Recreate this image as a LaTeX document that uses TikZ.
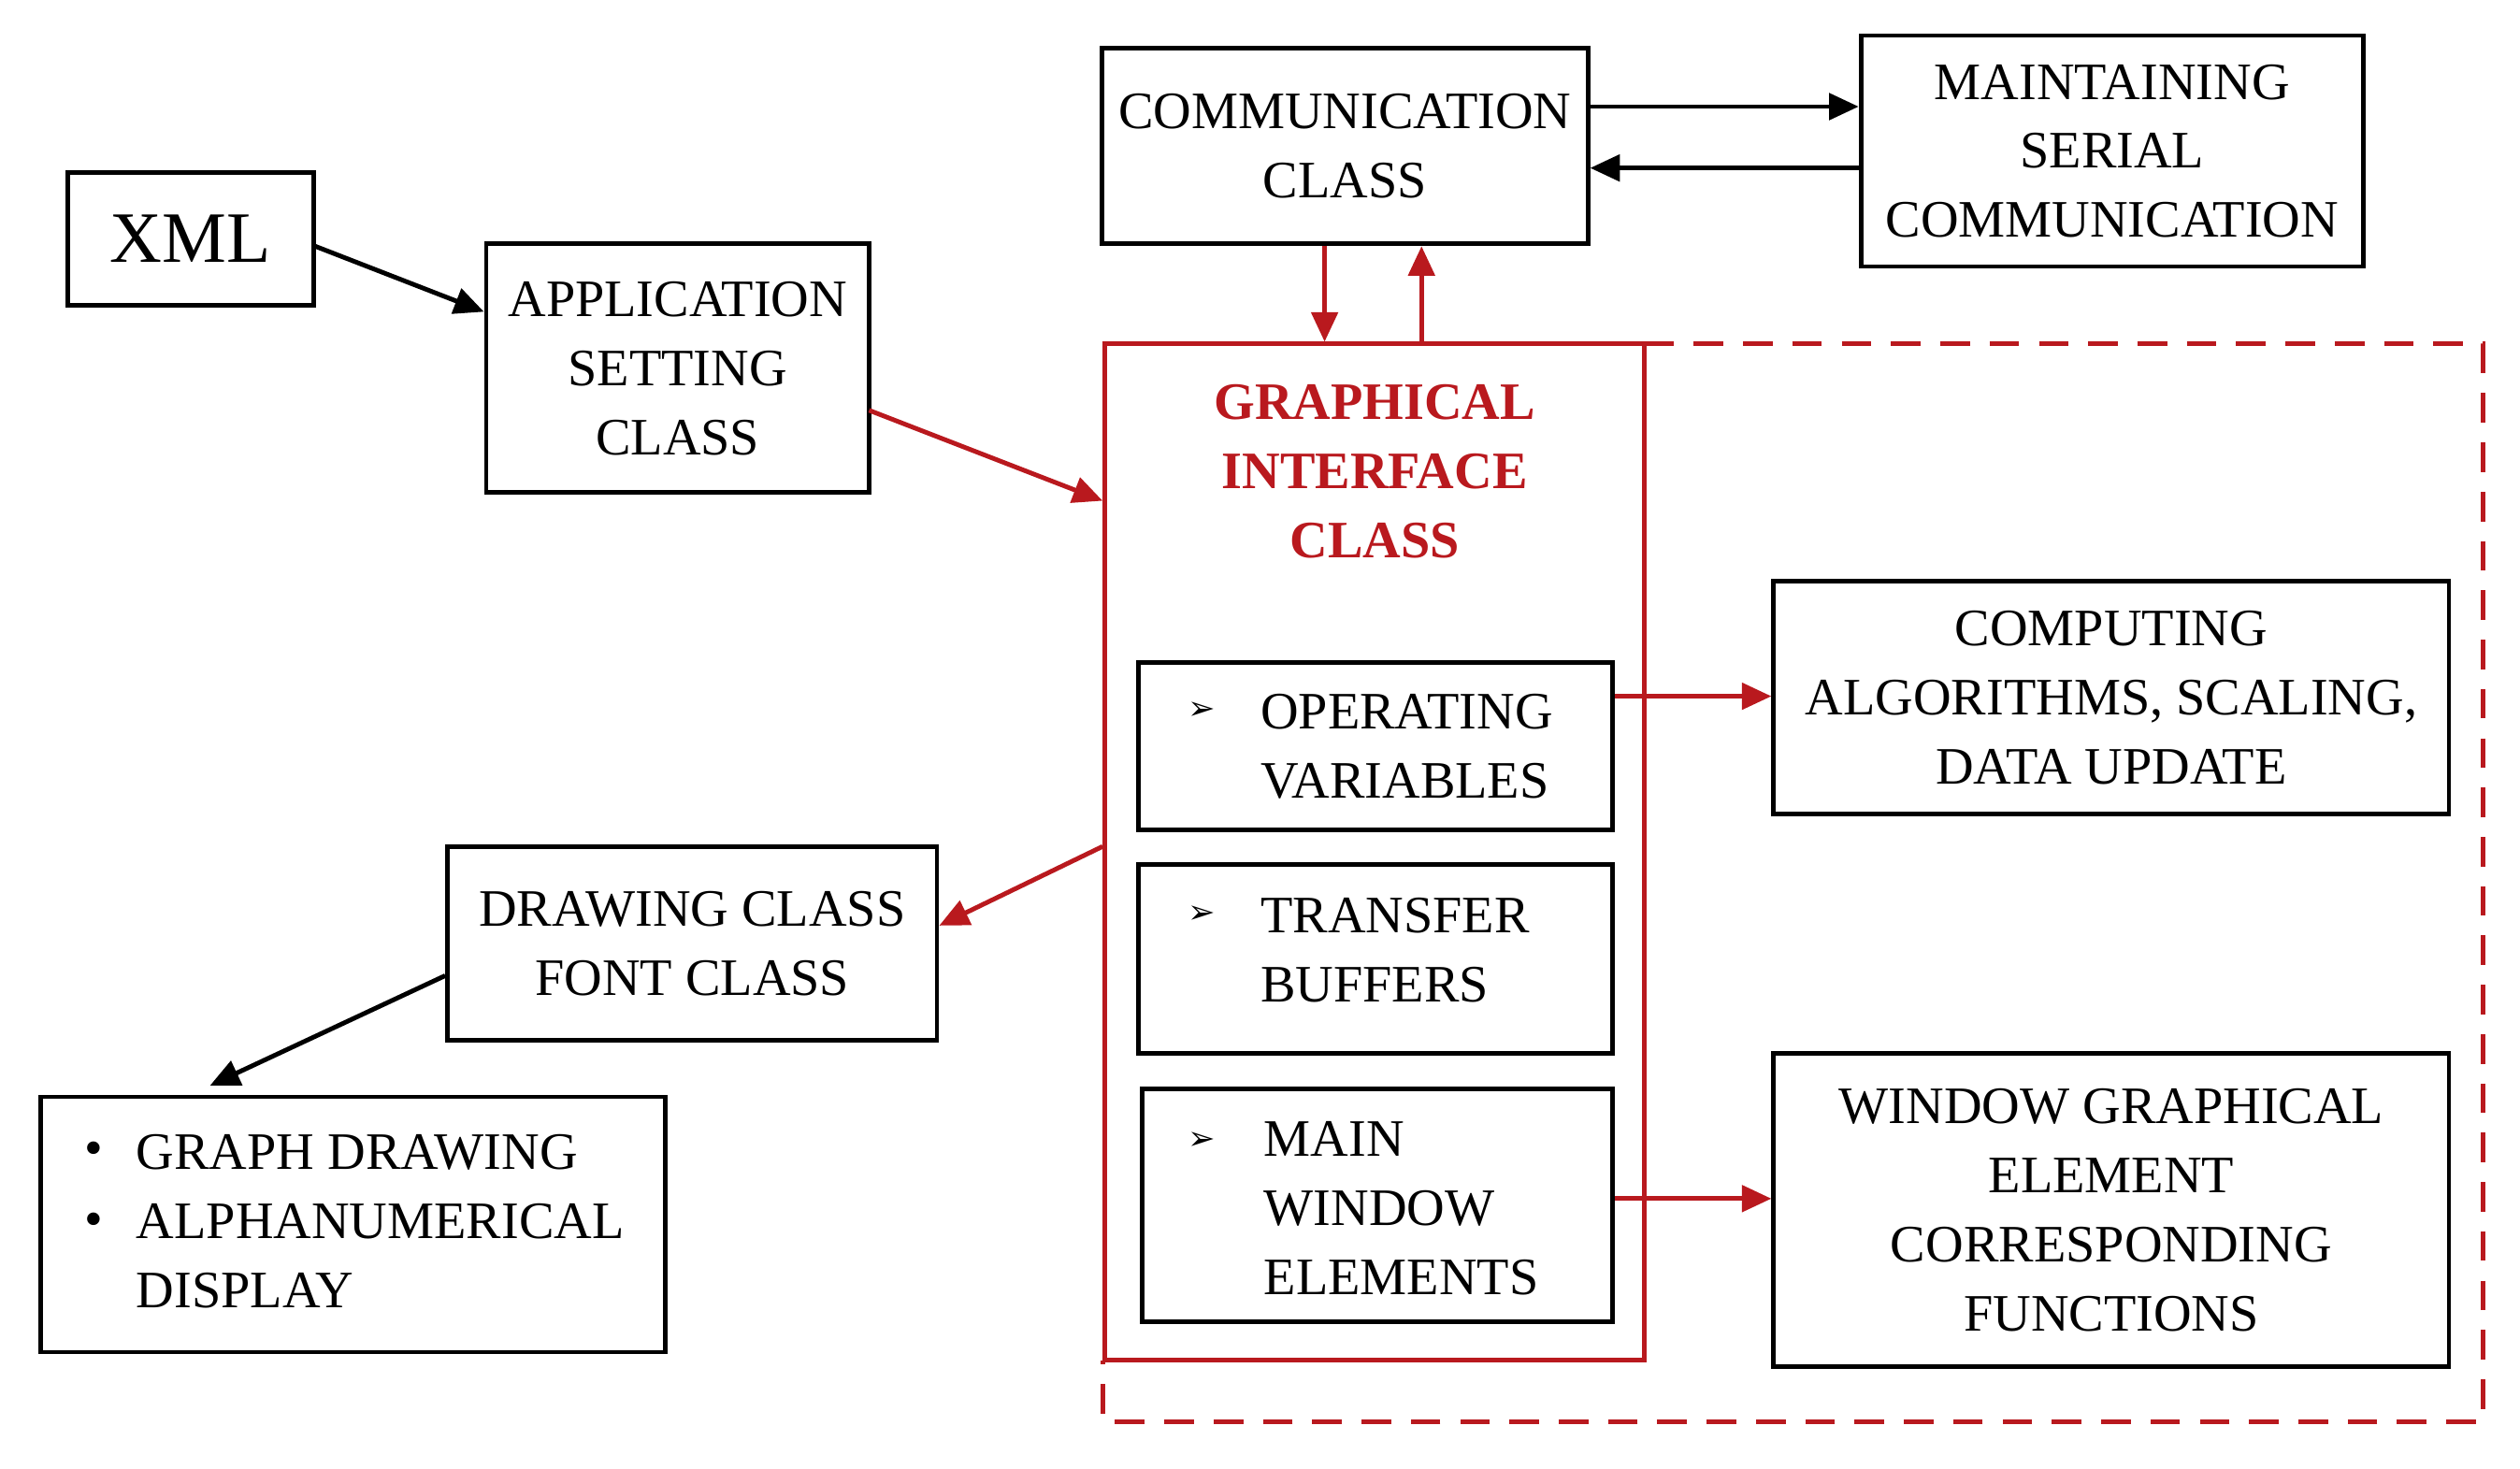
\documentclass[tikz,border=0pt]{standalone}
\usepackage{fontspec}
\setmainfont{Liberation Serif}
\newfontfamily\djv{DejaVu Sans}
\usetikzlibrary{arrows.meta,fit}
\definecolor{rd}{RGB}{185,25,30}
\begin{document}
\begin{tikzpicture}[x=0.017275cm,y=-0.017275cm,
 box/.style={draw,line width=1.4pt,inner sep=0pt},
 txt/.style={align=center,font=\fontsize{16}{21}\selectfont,inner sep=0pt},
 ltxt/.style={txt,align=left,anchor=west},
 arr/.style={line width=1.4pt,-{Triangle[length=9pt,width=8pt]}},
 rarr/.style={arr,draw=rd}]
\useasboundingbox (0,0) rectangle (1560,909);
\node[box,fit={(42,107)(194,189)}] (xml) {};
\node[txt,font=\fontsize{22}{26}\selectfont] at (xml.center) {XML};
\node[box,fit={(301,151)(538,305)}] (app) {};
\node[txt] at (app.center) {APPLICATION\\SETTING\\CLASS};
\node[box,fit={(682,30)(983,151)}] (comm) {};
\node[txt] at (comm.center) {COMMUNICATION\\CLASS};
\node[box,fit={(1152,22)(1463,165)}] (mnt) {};
\node[txt] at (mnt.center) {MAINTAINING\\SERIAL\\COMMUNICATION};
\draw[rd,line width=1.4pt,dash pattern=on 9pt off 6pt] (1018,213) -- (1537,213) -- (1537,880) -- (683,880) -- (683,842);
\node[box,draw=rd,fit={(684,213)(1018,842)}] (gic) {};
\node[txt,font=\fontsize{16}{21}\selectfont\bfseries,text=rd] at (851,292) {GRAPHICAL\\INTERFACE\\CLASS};
\node[box,fit={(705,410)(998,514)}] (opv) {};
\node[ltxt] at (780,462) {OPERATING\\VARIABLES};
\node[box,fit={(705,535)(998,652)}] (tb) {};
\node[ltxt] at (780,588) {TRANSFER\\BUFFERS};
\node[box,fit={(707,674)(998,818)}] (mwe) {};
\node[ltxt] at (782,748) {MAIN\\WINDOW\\ELEMENTS};
\foreach \y in {440,566,706} \node[txt,font=\djv] at (744,\y) {➢};
\node[box,fit={(1098,360)(1516,504)}] (comp) {};
\node[txt] at (comp.center) {COMPUTING\\ALGORITHMS, SCALING,\\DATA UPDATE};
\node[box,fit={(1098,652)(1516,846)}] (win) {};
\node[txt] at (win.center) {WINDOW GRAPHICAL\\ELEMENT\\CORRESPONDING\\FUNCTIONS};
\node[box,fit={(277,524)(580,644)}] (draw) {};
\node[txt] at (draw.center) {DRAWING CLASS\\FONT CLASS};
\node[box,fit={(25,679)(412,837)}] (gr) {};
\node[ltxt] at (84,756) {GRAPH DRAWING\\ALPHANUMERICAL\\DISPLAY};
\foreach \y in {714,758} \node[txt] at (58,\y) {\textbullet};
\draw[arr] (194,152) -- (app.west |- 0,193);
\draw[rarr] (538,254) -- (gic.west |- 0,310);
\draw[rarr] (comm.south -| 820,0) -- (gic.north -| 820,0);
\draw[rarr] (gic.north -| 880,0) -- (comm.south -| 880,0);
\draw[arr] (comm.east |- 0,66) -- (mnt.west |- 0,66);
\draw[arr] (mnt.west |- 0,104) -- (comm.east |- 0,104);
\draw[rarr] (opv.east |- 0,431) -- (comp.west |- 0,431);
\draw[rarr] (mwe.east |- 0,742) -- (win.west |- 0,742);
\draw[rarr] (gic.west |- 0,524) -- (draw.east |- 0,573);
\draw[arr] (draw.west |- 0,604) -- (130,672);
\end{tikzpicture}
\end{document}
